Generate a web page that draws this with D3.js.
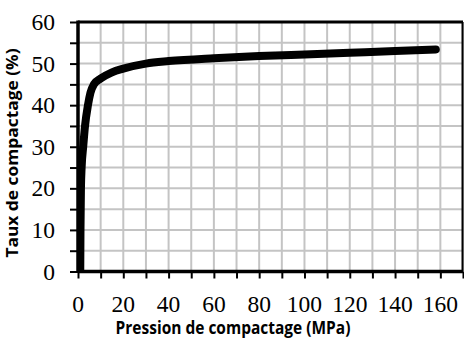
<!DOCTYPE html>
<html>
<head>
<meta charset="utf-8">
<script src="https://cdn.jsdelivr.net/npm/d3@7"></script>
<style>
  body { margin: 0; background: #fff; }
</style>
</head>
<body>
<div id="chart"></div>
<script>
// values
var pressure = [1.0, 1.1, 1.3, 1.6, 2.3, 3.1, 4.4, 5.5, 7, 10, 15, 20, 30, 40, 60, 80, 100, 120, 140, 158];
var taux     = [0, 10, 20, 25, 30, 35, 40, 43, 45, 46.4, 47.9, 48.8, 50.0, 50.6, 51.3, 51.8, 52.2, 52.6, 53.0, 53.4];

var xTicks = [0, 20, 40, 60, 80, 100, 120, 140, 160];
var yTicks = [0, 10, 20, 30, 40, 50, 60];
var xGrid = d3.range(0, 171, 10);
var yGrid = d3.range(0, 61, 5);

var lineData = pressure.map(function(p, i) { return {p: p, t: taux[i]}; });

var W = 464, H = 338;
var plotLeft = 78, plotTop = 22, plotRight = 463, plotBottom = 271.5;

var serifFont = "Liberation Serif";
var sansFont = "Open Sans";

var x = d3.scaleLinear().domain([0, 170]).range([plotLeft, plotRight]);
var y = d3.scaleLinear().domain([0, 60]).range([plotBottom, plotTop]);

var svg = d3.select("#chart").append("svg")
    .attr("width", W)
    .attr("height", H);

// grid
svg.append("g").selectAll("line").data(xGrid).enter().append("line")
    .attr("x1", function(d) { return x(d); })
    .attr("x2", function(d) { return x(d); })
    .attr("y1", plotTop).attr("y2", plotBottom)
    .style("stroke", "#c4c4c4").style("stroke-width", 2);

svg.append("g").selectAll("line").data(yGrid).enter().append("line")
    .attr("y1", function(d) { return y(d); })
    .attr("y2", function(d) { return y(d); })
    .attr("x1", plotLeft).attr("x2", plotRight)
    .style("stroke", "#c4c4c4").style("stroke-width", 2);

// clip so the curve stays inside the plot
svg.append("clipPath").attr("id", "plotClip")
  .append("rect")
    .attr("x", plotLeft).attr("y", plotTop)
    .attr("width", plotRight - plotLeft).attr("height", plotBottom - plotTop);

var valueLine = d3.line()
    .x(function(d) { return x(d.p); })
    .y(function(d) { return y(d.t); })
    .curve(d3.curveMonotoneX);

svg.append("path")
    .datum(lineData)
    .attr("clip-path", "url(#plotClip)")
    .attr("d", valueLine)
    .style("fill", "none")
    .style("stroke", "#000")
    .style("stroke-width", 8)
    .style("stroke-linecap", "round")
    .style("stroke-linejoin", "round");

// frame: top and right border
svg.append("line")
    .attr("x1", plotLeft).attr("x2", plotRight).attr("y1", plotTop).attr("y2", plotTop)
    .style("stroke", "#000").style("stroke-width", 3);
svg.append("line")
    .attr("x1", plotRight - 0.5).attr("x2", plotRight - 0.5).attr("y1", plotTop).attr("y2", plotBottom)
    .style("stroke", "#000").style("stroke-width", 2);

// Add the X Axis
var xAxis = d3.axisBottom(x)
    .tickValues(xGrid)
    .tickSize(7)
    .tickFormat("");
var gx = svg.append("g")
    .attr("transform", "translate(0," + plotBottom + ")")
    .call(xAxis);
gx.select(".domain").remove();
gx.selectAll(".tick line").style("stroke", "#000").style("stroke-width", 2);

// Add the Y Axis
var yAxis = d3.axisLeft(y)
    .tickValues(yGrid)
    .tickSize(8)
    .tickFormat("");
var gy = svg.append("g")
    .attr("transform", "translate(" + plotLeft + ",0)")
    .call(yAxis);
gy.select(".domain").remove();
gy.selectAll(".tick line").style("stroke", "#000").style("stroke-width", 2);

// thick axis lines
svg.append("line")
    .attr("x1", plotLeft).attr("x2", plotLeft).attr("y1", plotTop - 1.5).attr("y2", plotBottom + 1.5)
    .style("stroke", "#000").style("stroke-width", 3.5);
svg.append("line")
    .attr("x1", plotLeft).attr("x2", plotRight).attr("y1", plotBottom).attr("y2", plotBottom)
    .style("stroke", "#000").style("stroke-width", 3.5);

// tick labels
svg.append("g").selectAll("text").data(xTicks).enter().append("text")
    .attr("font-family", serifFont)
    .attr("font-size", 23.5)
    .attr("text-anchor", "middle")
    .attr("x", function(d) { return x(d); })
    .attr("y", 312)
    .text(function(d) { return d; });

svg.append("g").selectAll("text").data(yTicks).enter().append("text")
    .attr("font-family", serifFont)
    .attr("font-size", 23.5)
    .attr("text-anchor", "end")
    .attr("x", 55)
    .attr("y", function(d) { return y(d) + 8; })
    .text(function(d) { return d; });

// axis titles (the picture is slightly stretched vertically)
svg.append("text")
    .attr("font-family", sansFont)
    .attr("font-weight", "bold")
    .attr("font-size", 15.5)
    .attr("text-anchor", "middle")
    .attr("transform", "translate(233,334) scale(1,1.12)")
    .text("Pression de compactage (MPa)");

svg.append("text")
    .attr("font-family", sansFont)
    .attr("font-weight", "bold")
    .attr("font-size", 15.5)
    .attr("text-anchor", "middle")
    .attr("transform", "translate(18,153) scale(1,1.12) rotate(-90)")
    .text("Taux de compactage (%)");
</script>
</body>
</html>
